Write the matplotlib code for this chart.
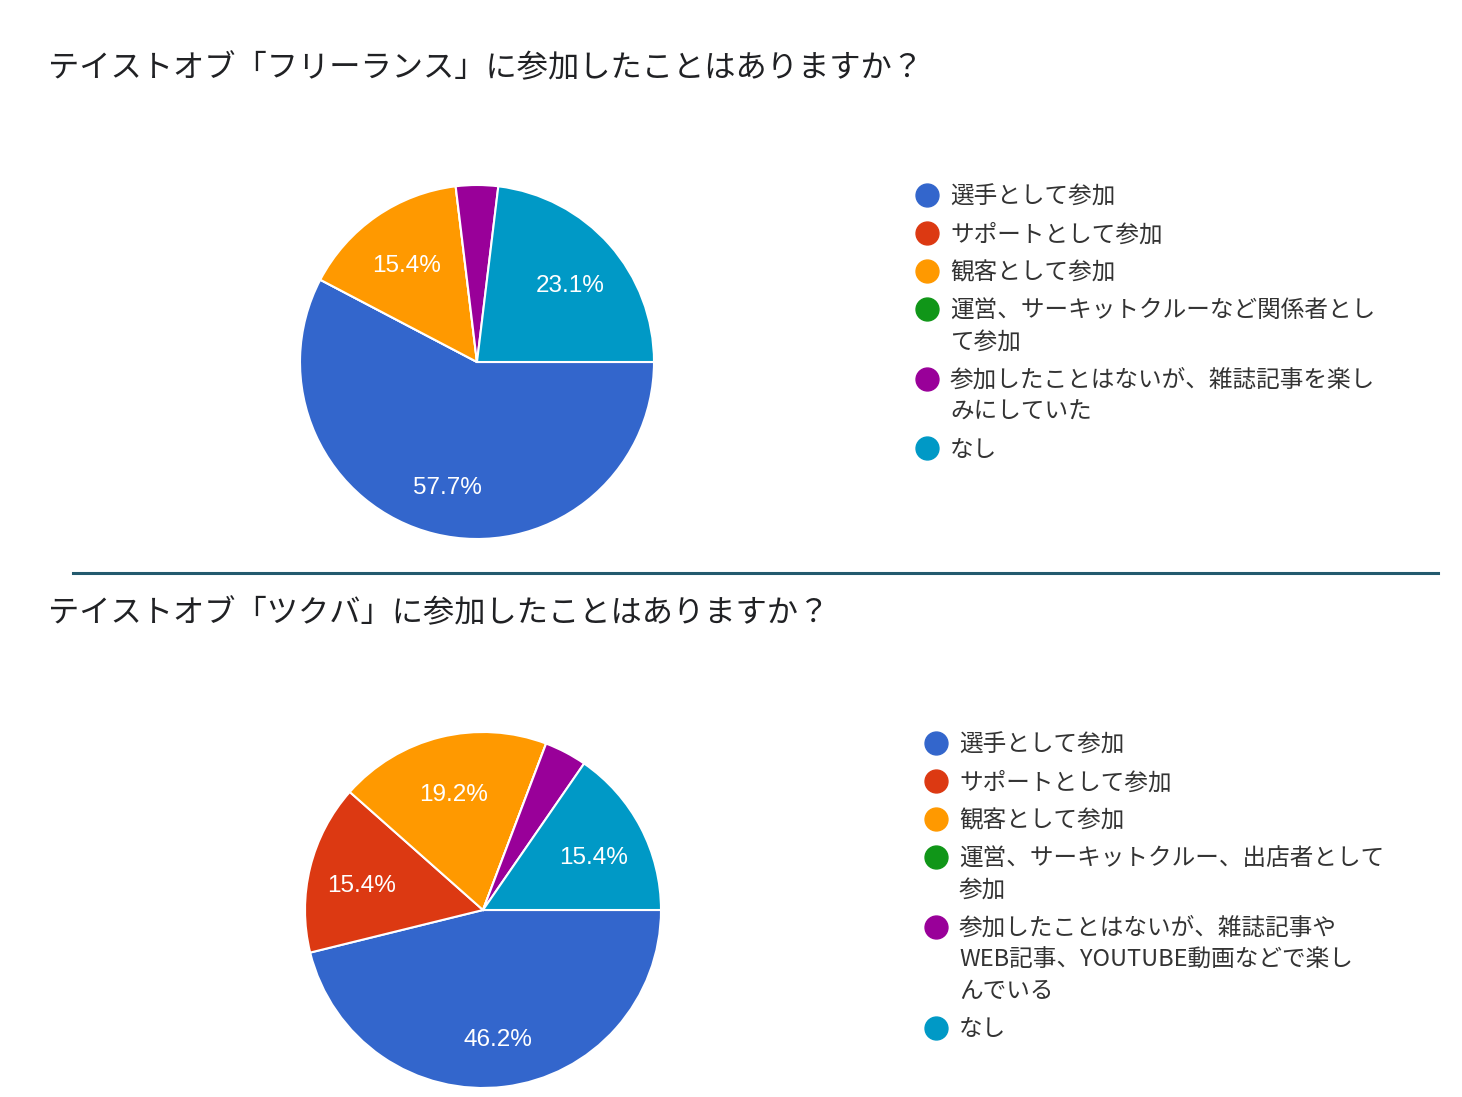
import matplotlib
matplotlib.use('Agg')
import matplotlib.pyplot as plt
import numpy as np

plt.rcParams['font.family'] = ['Noto Sans CJK JP', 'DejaVu Sans']

# data
colors = ['#3366cc', '#dc3912', '#ff9900', '#109618', '#990099', '#0099c6']

title1 = 'テイストオブ「フリーランス」に参加したことはありますか？'
labels1 = ['選手として参加', 'サポートとして参加', '観客として参加',
           '運営、サーキットクルーなど関係者とし\nて参加',
           '参加したことはないが、雑誌記事を楽し\nみにしていた',
           'なし']
counts1 = [15, 0, 4, 0, 1, 6]

title2 = 'テイストオブ「ツクバ」に参加したことはありますか？'
labels2 = ['選手として参加', 'サポートとして参加', '観客として参加',
           '運営、サーキットクルー、出店者として\n参加',
           '参加したことはないが、雑誌記事や\nWEB記事、YOUTUBE動画などで楽し\nんでいる',
           'なし']
counts2 = [12, 4, 5, 0, 1, 4]

W, H = 1462, 1097
fig = plt.figure(figsize=(W / 100, H / 100), dpi=100)


def px(x, y):
    return x / W, 1 - y / H


def draw_block(title, labels, counts, ty, cx, cy, r, lx, ly):
    fig.text(*px(48, ty + 3), title, fontsize=22.5, color='#202124', va='center', ha='left')
    ax = fig.add_axes([(cx - r) / W, 1 - (cy + r) / H, 2 * r / W, 2 * r / H])
    vals = np.array(counts, dtype=float)
    wedges, texts, autotexts = ax.pie(
        vals, colors=colors, startangle=0, counterclock=False,
        wedgeprops=dict(edgecolor='white', linewidth=1.5),
        autopct=lambda p: f'{p:.1f}%' if p > 5 else '', pctdistance=0.7,
        textprops=dict(color='white', fontsize=17.5, family=['Liberation Sans']))
    for t in autotexts:
        x, y = t.get_position()
        t.set_position((x, y - 6 / r))
    ax.set_xlim(-1, 1)
    ax.set_ylim(-1, 1)
    ax.axis('off')
    # legend
    y = ly
    for lab, c in zip(labels, colors):
        x0, y0 = px(lx, y)
        fig.add_artist(plt.Line2D([x0], [y0], marker='o', markersize=16.5, color=c,
                                  linestyle='none', transform=fig.transFigure))
        lines = lab.split('\n')
        for i, line in enumerate(lines):
            fig.text(*px(lx + 23, y + 2 + i * 31.5), line, fontsize=17, color='#333333',
                     va='center', ha='left')
        y += 38 + 31.5 * (len(lines) - 1)


draw_block(title1, labels1, counts1, 65, 477, 362, 177, 927, 195)
draw_block(title2, labels2, counts2, 610, 483, 910, 178, 936, 743)

# divider
fig.add_artist(plt.Line2D([73 / W, 1438 / W], [1 - 573 / H] * 2, color='#235a6e',
                          linewidth=2.2, transform=fig.transFigure))

fig.savefig('out.png', dpi=100, facecolor='white')
